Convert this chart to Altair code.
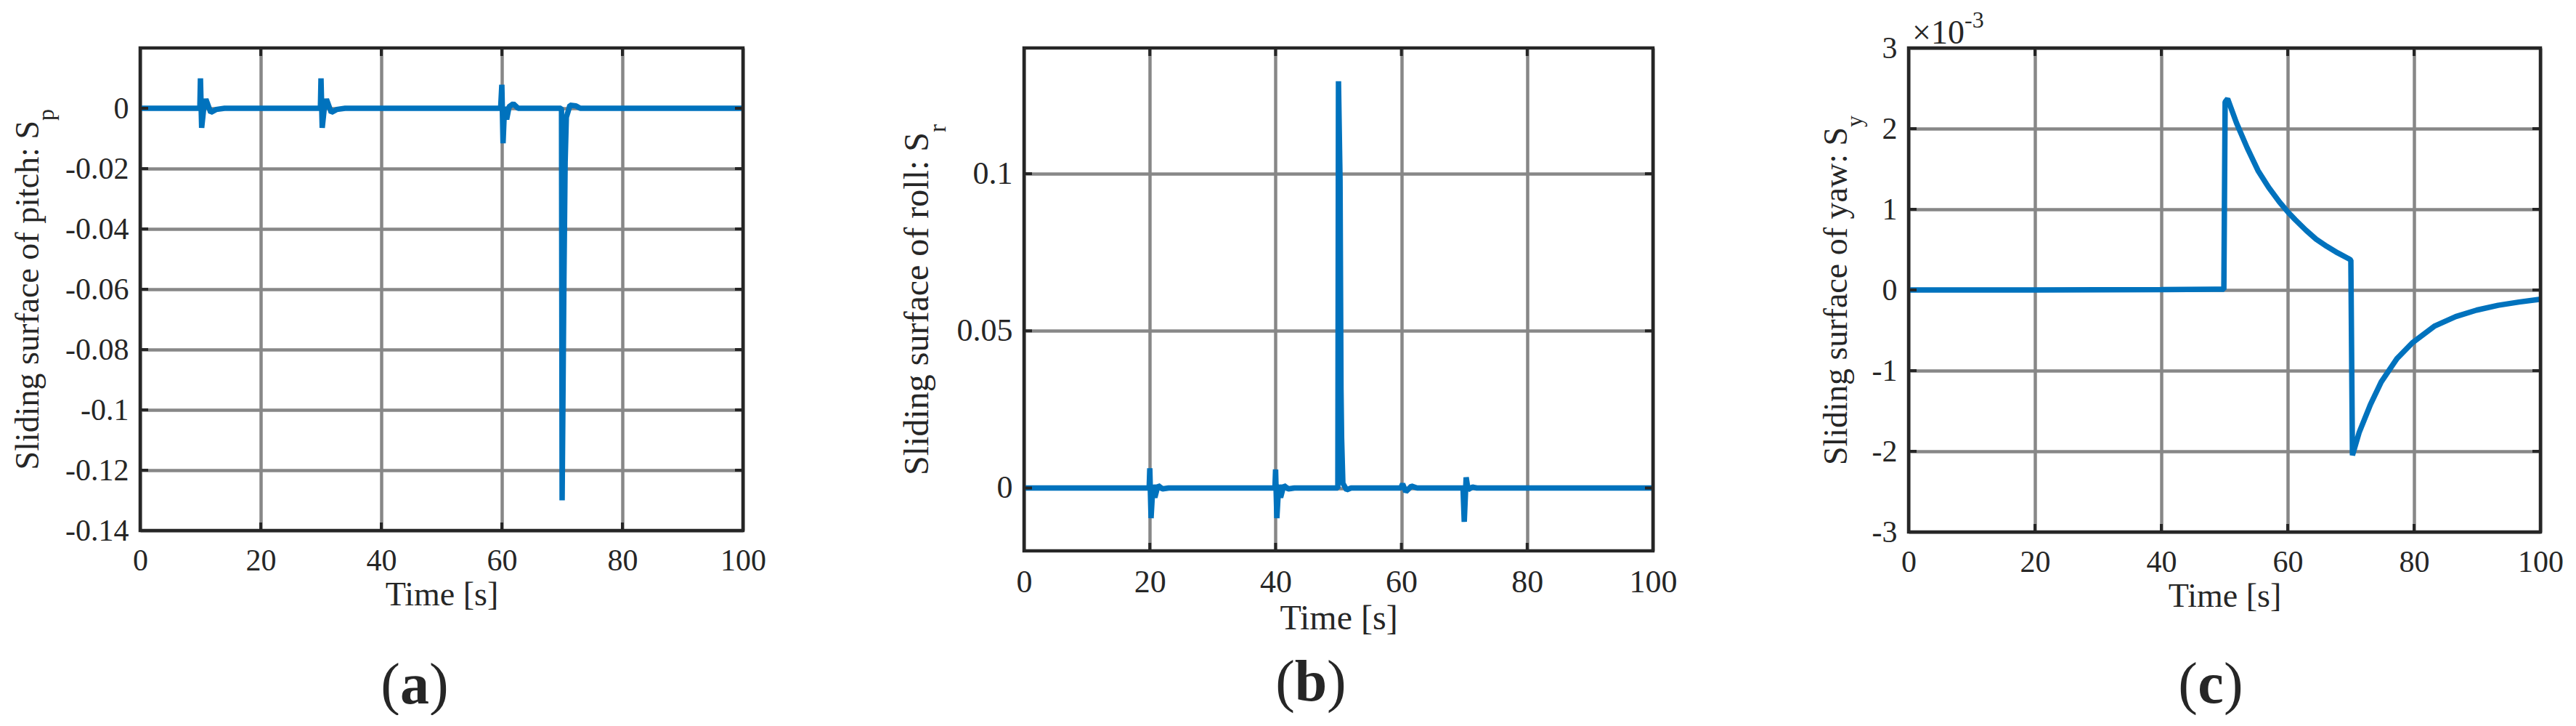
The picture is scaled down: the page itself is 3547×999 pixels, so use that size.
import altair as alt
import pandas as pd

# ---------------- data ----------------
pitch_t = [0, 9.9, 10.0, 10.2, 10.6, 10.9, 11.7, 12.6, 14.0,
           29.9, 30.0, 30.2, 30.6, 30.9, 31.7, 32.6, 34.0,
           59.8, 60.0, 60.2, 60.45, 60.8, 61.2, 61.9, 62.7,
           69.8, 69.9, 70.0, 70.3, 70.5, 70.7, 71.3, 72.3, 73.0, 100]
pitch_s = [0, 0, 0.0099, -0.0065, 0.001, 0.003, -0.0014, -0.0004, 0,
           0, 0.0099, -0.0065, 0.001, 0.003, -0.0014, -0.0004, 0,
           0, 0.0078, -0.0116, 0.0005, -0.0037, 0.0005, 0.0015, 0,
           0, -0.0005, -0.13, -0.057, -0.018, -0.003, 0.001, 0.0008, 0, 0]

roll_t = [0, 19.9, 20.0, 20.2, 20.5, 20.8, 21.3, 22.0, 23.0,
          39.9, 40.0, 40.2, 40.5, 40.8, 41.3, 42.0, 43.0,
          49.9, 50.0, 50.25, 50.4, 50.5, 50.7, 51.3, 52.0,
          59.9, 60.2, 60.7, 61.3, 61.6, 62.5,
          69.8, 70.0, 70.3, 70.6, 71.3, 72.0, 100]
roll_s = [0, 0, 0.0063, -0.0096, 0.001, -0.003, 0.0008, -0.0003, 0,
          0, 0.0059, -0.0096, 0.001, -0.003, 0.0008, -0.0003, 0,
          0, 0.1294, 0.098, 0.0315, 0.0158, 0.0015, -0.0006, 0,
          0, 0.0013, -0.0012, 0, 0.0006, 0,
          0, -0.0108, 0.0034, -0.0005, 0.0003, 0, 0]

# yaw values in units of 1e-3
yaw_t = [0, 20, 40, 49.9, 50.1, 50.5, 51.9, 53.6, 55.3, 57.0, 58.7, 60.1, 61.2,
         62.9, 64.5, 66.2, 67.9, 69.6, 70.0, 70.25, 71.3, 73.1, 74.8, 77.3,
         79.8, 83.2, 86.6, 89.9, 93.3, 96.6, 100]
yaw_s = [0, 0, 0.005, 0.01, 2.33, 2.37, 2.07, 1.76, 1.48, 1.27, 1.09, 0.96, 0.87,
         0.74, 0.63, 0.54, 0.46, 0.39, 0.37, -2.05, -1.77, -1.42, -1.14, -0.85,
         -0.65, -0.45, -0.33, -0.25, -0.19, -0.15, -0.115]

x_ticks = [0, 20, 40, 60, 80, 100]
pitch_yticks = [0, -0.02, -0.04, -0.06, -0.08, -0.1, -0.12, -0.14]
roll_yticks = [0, 0.05, 0.1]
yaw_yticks = [-3, -2, -1, 0, 1, 2, 3]

x_title = "Time [s]"
pitch_title, pitch_sub = "Sliding surface of pitch: S", "p"
roll_title, roll_sub = "Sliding surface of roll: S", "r"
yaw_title, yaw_sub = "Sliding surface of yaw: S", "y"
yaw_exp_base, yaw_exp = "\u00d710", "-3"
letters = ["a", "b", "c"]

# ---------------- style ----------------
FONT = "Liberation Serif"
BLUE = "#0072BD"
TXT = "#262626"
GRID = "#878787"
LEXPR = "replace(format(datum.value, '~g'), '\u2212', '-')"


def txt(text, x, y, size, align="left", angle=0, weight="normal"):
    return alt.Chart(pd.DataFrame({"label": [text]})).mark_text(
        font=FONT, fontSize=size, fontWeight=weight, align=align,
        baseline="alphabetic", angle=angle, color=TXT
    ).encode(text="label:N", x=alt.value(x), y=alt.value(y))


def panel(t, s, ydom, yticks, W, H, lf, tf, sf, tmain, tsub, tx, tend, subx,
          letter, fcx, fhalf, fy, L, R, d, extras=()):
    xs = alt.Scale(domain=[0, 100], nice=False, zero=False)
    ys = alt.Scale(domain=ydom, nice=False, zero=False)
    xax = alt.Axis(
        values=x_ticks, title=x_title, grid=True, gridColor=GRID, gridWidth=4.5,
        gridOpacity=1, domain=False, ticks=False, tickSize=0,
        labelFont=FONT, labelFontSize=lf, labelColor=TXT, labelPadding=21,
        labelFlush=False, labelOverlap=False, titleFont=FONT, titleFontSize=tf,
        titleFontWeight="normal", titleColor=TXT, titlePadding=4)
    yax = alt.Axis(
        values=yticks, title=None, grid=True, gridColor=GRID, gridWidth=4.5,
        gridOpacity=1, domain=False, ticks=False, tickSize=0,
        labelFont=FONT, labelFontSize=lf, labelColor=TXT, labelPadding=16,
        labelFlush=False, labelOverlap=False, labelExpr=LEXPR)
    df = pd.DataFrame({"t": t, "s": s})
    line = alt.Chart(df).mark_line(color=BLUE, strokeWidth=7.5, strokeJoin="bevel").encode(
        x=alt.X("t:Q", scale=xs, axis=xax),
        y=alt.Y("s:Q", scale=ys, axis=yax),
    )
    xt = pd.DataFrame({"t": x_ticks})
    yt = pd.DataFrame({"s": yticks})
    tick_style = dict(color=TXT, strokeWidth=4)
    xtop = alt.Chart(xt).mark_rule(**tick_style).encode(
        x=alt.X("t:Q", scale=xs, axis=xax), y=alt.value(0), y2=alt.value(11))
    xbot = alt.Chart(xt).mark_rule(**tick_style).encode(
        x=alt.X("t:Q", scale=xs, axis=xax), y=alt.value(H - 11), y2=alt.value(H))
    yleft = alt.Chart(yt).mark_rule(**tick_style).encode(
        y=alt.Y("s:Q", scale=ys, axis=yax), x=alt.value(0), x2=alt.value(11))
    yright = alt.Chart(yt).mark_rule(**tick_style).encode(
        y=alt.Y("s:Q", scale=ys, axis=yax), x=alt.value(W - 11), x2=alt.value(W))
    frame = alt.Chart(pd.DataFrame({"f": [0]})).mark_rect(
        fillOpacity=0, stroke=TXT, strokeWidth=4.5
    ).encode(x=alt.value(0), x2=alt.value(W), y=alt.value(0), y2=alt.value(H))
    marker = alt.Chart(pd.DataFrame({"m": [0]})).mark_rule(strokeOpacity=0).encode(
        x=alt.value(L), x2=alt.value(R), y=alt.value(-d), y2=alt.value(-d))
    layers = [line, xtop, xbot, yleft, yright, frame,
              txt(tmain, tx, tend, tf, align="right", angle=270),
              txt(tsub, subx, tend, sf, align="left", angle=270),
              txt("(", fcx - fhalf, fy, 80, align="right"),
              txt(letter, fcx, fy, 80, align="center", weight="bold"),
              txt(")", fcx + fhalf, fy, 80, align="left"),
              marker] + list(extras)
    return alt.layer(*layers).properties(width=W, height=H)


pa = panel(pitch_t, pitch_s, [-0.14, 0.02], pitch_yticks, 830, 664, 42, 46, 32,
           pitch_title, pitch_sub, -140, 100, -119,
           letters[0], 378, 20, 902, -185, 870, 54)
pb = panel(roll_t, roll_s, [-0.02, 0.14], roll_yticks, 866, 692, 44, 48, 33,
           roll_title, roll_sub, -132, 116, -108,
           letters[1], 395, 22, 898, -247, 906, 58)
pc = panel(yaw_t, yaw_s, [-3, 3], yaw_yticks, 870, 666, 42, 46, 32,
           yaw_title, yaw_sub, -85, 109, -64,
           letters[2], 416, 18, 901, -212, 902, 55,
           extras=[txt(yaw_exp_base, 5, -6, 46), txt(yaw_exp, 77, -28, 32)])

chart = alt.hconcat(pa, pb, pc, spacing=100).properties(
    padding={"left": 0, "top": 0, "right": 0, "bottom": 0}
).configure_view(stroke=None)

chart.save("out.html", embed_options={"renderer": "svg", "actions": False})
